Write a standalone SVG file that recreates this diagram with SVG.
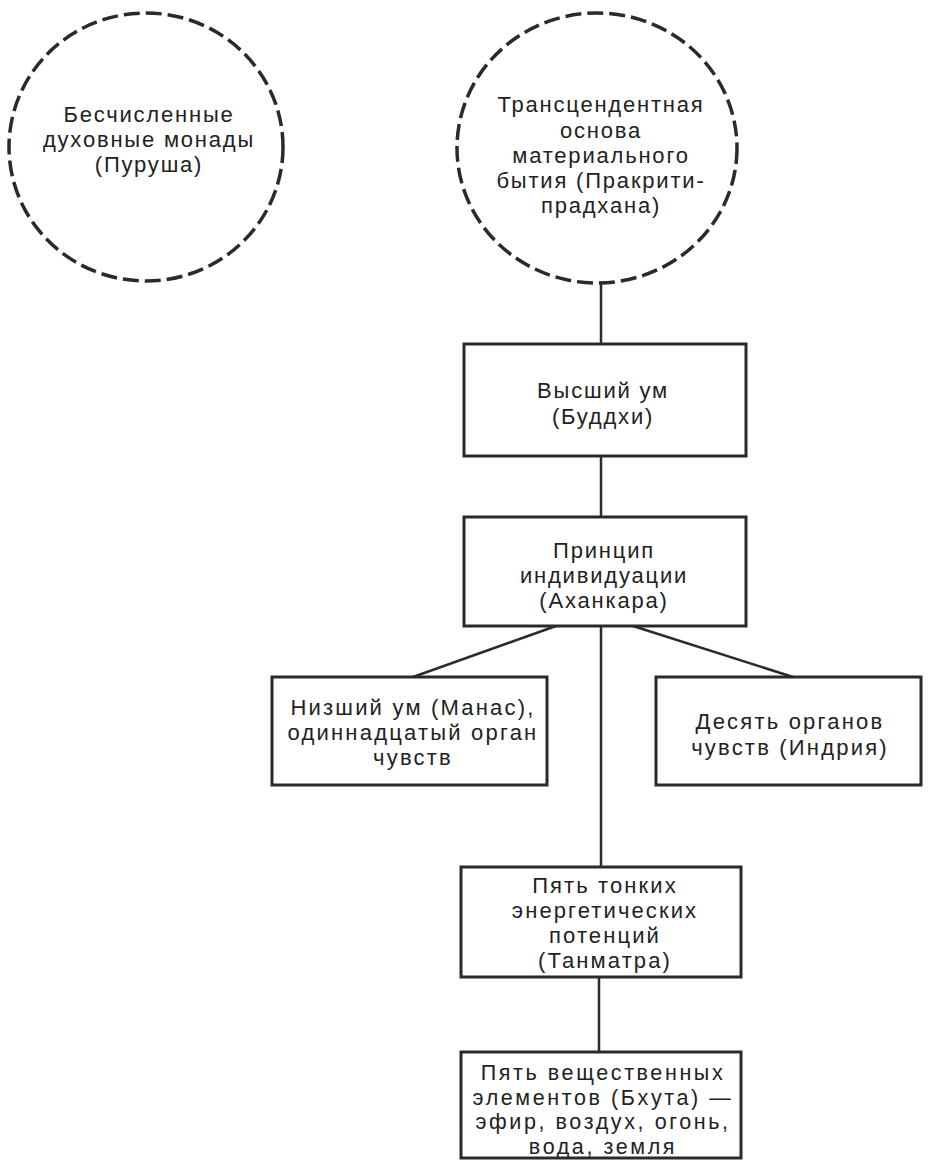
<svg xmlns="http://www.w3.org/2000/svg" width="933" height="1161" viewBox="0 0 933 1161">
<style>
.bg{fill:#fff}
.circ{fill:none;stroke:#2a2a2a;stroke-width:3.5;stroke-dasharray:16 6}
.box{fill:#fff;stroke:#2a2a2a;stroke-width:3}
.ln{fill:none;stroke:#2a2a2a;stroke-width:2.5}
text{font-family:"Liberation Sans",Arial,sans-serif;fill:#222;text-anchor:middle}
.u{font-size:22px;letter-spacing:1.8px}
.m{font-size:22px;letter-spacing:2.2px}
.l{font-size:22px;letter-spacing:2.1px}
.b{font-size:21.5px;letter-spacing:2.6px}
</style>
<rect class="bg" x="0" y="0" width="933" height="1161"/>
<g id="connectors">
<line class="ln" x1="601" y1="282" x2="601" y2="344"/>
<line class="ln" x1="601" y1="456" x2="601" y2="517"/>
<line class="ln" x1="601" y1="626" x2="601" y2="867"/>
<line class="ln" x1="556" y1="626" x2="413" y2="677"/>
<line class="ln" x1="633" y1="626" x2="793" y2="677"/>
<line class="ln" x1="599" y1="977" x2="599" y2="1052"/>
</g>
<g id="purusha">
<ellipse class="circ" cx="146" cy="147" rx="137" ry="134"/>
<text class="u" x="149" y="122">Бесчисленные</text>
<text class="u" x="149" y="147">духовные монады</text>
<text class="u" x="149" y="172">(Пуруша)</text>
</g>
<g id="prakriti">
<ellipse class="circ" cx="597" cy="148" rx="140" ry="135"/>
<text class="u" x="601" y="112">Трансцендентная</text>
<text class="u" x="601" y="138">основа</text>
<text class="u" x="601" y="163">материального</text>
<text class="u" x="601" y="188">бытия (Пракрити-</text>
<text class="u" x="601" y="213">прадхана)</text>
</g>
<g id="buddhi">
<rect class="box" x="464" y="344" width="282" height="112"/>
<text class="u" x="603" y="398">Высший ум</text>
<text class="u" x="603" y="424">(Буддхи)</text>
</g>
<g id="ahankara">
<rect class="box" x="464" y="517" width="282" height="109"/>
<text class="u" x="604" y="558">Принцип</text>
<text class="u" x="604" y="583">индивидуации</text>
<text class="u" x="604" y="608">(Аханкара)</text>
</g>
<g id="manas">
<rect class="box" x="272" y="677" width="275" height="108"/>
<text class="m" x="413" y="715">Низший ум (Манас),</text>
<text class="m" x="413" y="740">одиннадцатый орган</text>
<text class="m" x="413" y="765">чувств</text>
</g>
<g id="indriya">
<rect class="box" x="656" y="677" width="265" height="108"/>
<text class="m" x="790" y="729">Десять органов</text>
<text class="m" x="790" y="755">чувств (Индрия)</text>
</g>
<g id="tanmatra">
<rect class="box" x="461" y="867" width="280" height="110"/>
<text class="l" x="605" y="893">Пять тонких</text>
<text class="l" x="605" y="918">энергетических</text>
<text class="l" x="605" y="943">потенций</text>
<text class="l" x="605" y="968">(Танматра)</text>
</g>
<g id="bhuta">
<rect class="box" x="461" y="1052" width="280" height="106"/>
<text class="b" x="603" y="1080">Пять вещественных</text>
<text class="b" x="603" y="1104.5">элементов (Бхута) —</text>
<text class="b" x="603" y="1129">эфир, воздух, огонь,</text>
<text class="b" x="603" y="1153.5">вода, земля</text>
</g>
</svg>
